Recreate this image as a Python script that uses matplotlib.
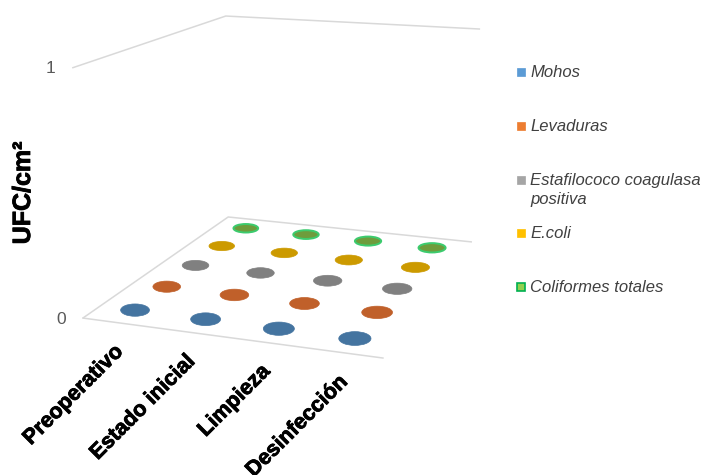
import numpy as np
import matplotlib
matplotlib.use("Agg")
import matplotlib.pyplot as plt
import matplotlib.patheffects as pe
from matplotlib.patches import Polygon, Rectangle, Ellipse

# ---- data -------------------------------------------------------------
categories = ["Preoperativo", "Estado inicial", "Limpieza", "Desinfección"]
series_names = ["Mohos", "Levaduras", "Estafilococo coagulasa\npositiva",
                "E.coli", "Coliformes totales"]
mohos = [0, 0, 0, 0]
levaduras = [0, 0, 0, 0]
estafilococo = [0, 0, 0, 0]
ecoli = [0, 0, 0, 0]
coliformes = [0, 0, 0, 0]
series_values = [mohos, levaduras, estafilococo, ecoli, coliformes]
y_ticks = [0, 1]
y_title = "UFC/cm²"

# ---- styles -----------------------------------------------------------
legend_colors = ["#5B9BD5", "#ED7D31", "#A5A5A5", "#FFC000", "#92D050"]
legend_edges = ["#5B9BD5", "#ED7D31", "#A5A5A5", "#FFC000", "#00B050"]
top_colors = ["#4474A0", "#C0602A", "#808080", "#CC9A00", "#6E9C3C"]
top_edges = ["#4474A0", "#C0602A", "#808080", "#CC9A00", "#3CCB6E"]
grid_color = "#D9D9D9"

plt.rcParams["font.family"] = ["Liberation Sans", "DejaVu Sans"]

W, H = 705, 475
fig = plt.figure(figsize=(W / 100, H / 100), dpi=100)
ax = fig.add_axes([0, 0, 1, 1])
ax.set_xlim(0, W)
ax.set_ylim(H, 0)
ax.axis("off")

# ---- perspective camera for the 3-D plot box --------------------------
# box corners (category axis, series depth, value) and where they land
box_world = np.array([(0, 0, 0), (1, 0, 0), (0, 1, 0), (1, 1, 0),
                      (0, 0, 1), (0, 1, 1), (1, 1, 1)], float)
box_screen = np.array([(83, 318), (383, 358), (228, 217), (472, 242),
                       (72, 68), (226, 16), (480, 29)], float)

rows = []
for (X, Y, Z), (x, y) in zip(box_world, box_screen):
    rows.append([X, Y, Z, 1, 0, 0, 0, 0, -x * X, -x * Y, -x * Z, -x])
    rows.append([0, 0, 0, 0, X, Y, Z, 1, -y * X, -y * Y, -y * Z, -y])
_, _, vt = np.linalg.svd(np.array(rows))
P = vt[-1].reshape(3, 4)


def project(pts):
    pts = np.atleast_2d(np.asarray(pts, float))
    hom = np.c_[pts, np.ones(len(pts))] @ P.T
    return hom[:, :2] / hom[:, 2:3]


ymax = max(y_ticks)
n_cat = len(categories)
n_ser = len(series_values)

# ---- walls / floor gridlines ------------------------------------------
for t in y_ticks:
    z = t / ymax
    pts = project([(0, 0, z), (0, 1, z), (1, 1, z)])
    ax.plot(pts[:, 0], pts[:, 1], color=grid_color, lw=1.1, zorder=1,
            solid_capstyle="butt")
    lx, ly = project([(0, 0, z)])[0]
    ax.text(lx - 17, ly + 1, str(t), ha="right", va="center", fontsize=12.5,
            color="#595959")
front = project([(0, 0, 0), (1, 0, 0)])
ax.plot(front[:, 0], front[:, 1], color=grid_color, lw=1.1, zorder=1)

# ---- cylinders (screen-aligned ellipses sized by local perspective) ----
ru, rv = 0.052, 0.05
for j in reversed(range(n_ser)):
    v0 = (j + 0.5) / n_ser
    for i in range(n_cat):
        u0 = (i + 0.5) / n_cat
        z = series_values[j][i] / ymax
        c_bot = project([(u0, v0, 0)])[0]
        c_top = project([(u0, v0, z)])[0]
        uu = project([(u0 - ru, v0, z), (u0 + ru, v0, z)])
        vv = project([(u0, v0 - rv, z), (u0, v0 + rv, z)])
        w = abs(uu[1, 0] - uu[0, 0])
        h = abs(vv[1, 1] - vv[0, 1])
        if z > 0:
            ax.add_patch(Ellipse(c_bot, w, h, facecolor=legend_colors[j],
                                 edgecolor="none", zorder=2))
            ax.add_patch(Rectangle((c_top[0] - w / 2, c_top[1]), w,
                                   c_bot[1] - c_top[1],
                                   facecolor=legend_colors[j],
                                   edgecolor="none", zorder=2))
        ax.add_patch(Ellipse(c_top, w, h, facecolor=top_colors[j],
                             edgecolor=top_edges[j],
                             lw=1.4 if j == n_ser - 1 else 0.5, zorder=3))

# ---- category labels ---------------------------------------------------
heavy = [pe.withStroke(linewidth=0.6, foreground="black")]
for i, name in enumerate(categories):
    px, py = project([((i + 0.5) / n_cat, 0, 0)])[0]
    ax.text(px + 2, py + 26, name, rotation=45, rotation_mode="anchor",
            ha="right", va="center", fontsize=15.5, fontweight="bold",
            color="black", path_effects=heavy)

# ---- value axis title --------------------------------------------------
ax.text(23, 193, y_title, rotation=90, ha="center", va="center",
        fontsize=18, fontweight="bold", color="black",
        path_effects=[pe.withStroke(linewidth=0.6, foreground="black")])

# ---- legend -------------------------------------------------------------
legend_y = np.linspace(72, 287, len(series_names))
for name, fc, ec, y in zip(series_names, legend_colors, legend_edges, legend_y):
    ax.add_patch(Rectangle((517, y - 4), 8, 8, facecolor=fc, edgecolor=ec,
                           lw=1.2 if ec != fc else 0.5))
    ax.text(530, y - 7, name, ha="left", va="top", fontsize=12,
            style="italic", color="#404040", linespacing=1.35)

fig.savefig("out.png", dpi=100)
